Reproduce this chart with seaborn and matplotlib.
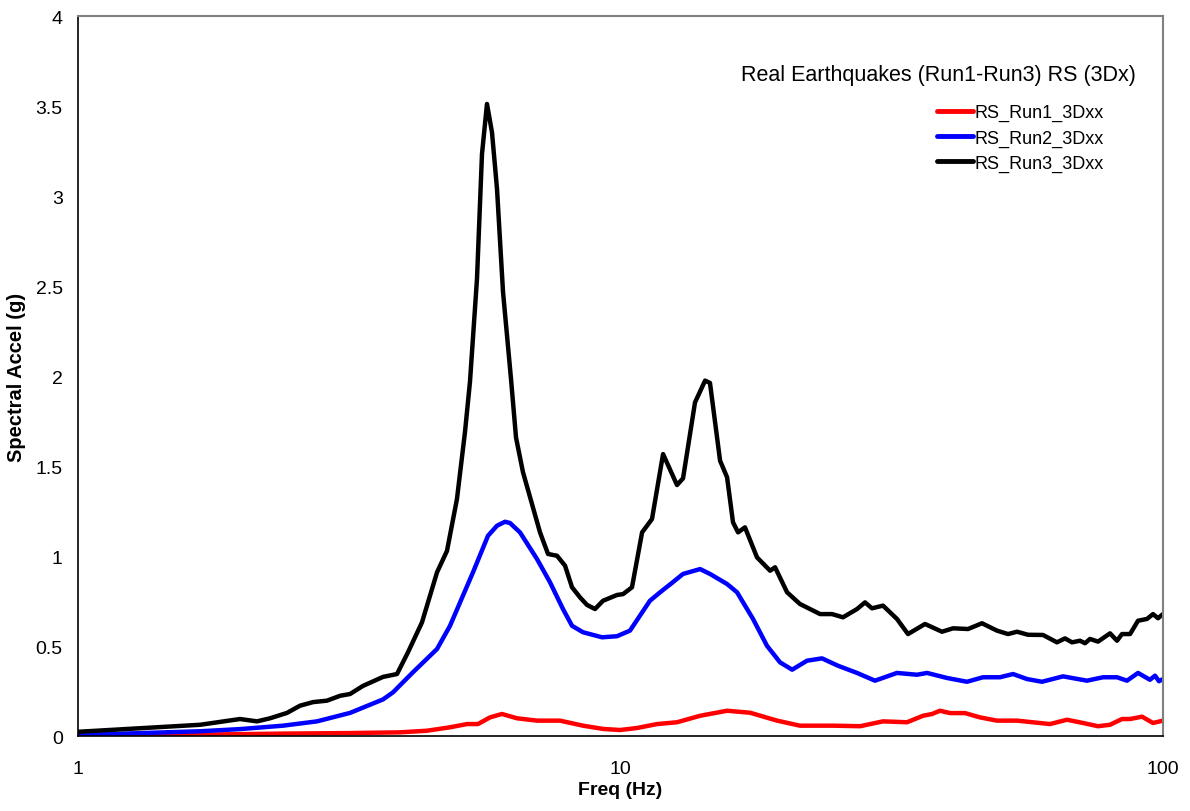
import numpy as np
import pandas as pd
import matplotlib
matplotlib.use("Agg")
import matplotlib.pyplot as plt
import seaborn as sns

# ===== data =====
freq_run1 = [1.0, 1.679, 2.387, 3.173, 3.923, 4.398, 4.850, 5.212, 5.461, 5.746,
             6.046, 6.445, 7.016, 7.737, 8.529, 9.284, 9.98, 10.72, 11.68, 12.71,
             14.02, 15.72, 17.33, 19.44, 21.42, 24.65, 27.64, 30.47, 33.74, 36.11,
             37.52, 38.81, 40.50, 43.15, 45.99, 49.43, 53.82, 61.90, 66.53, 71.20,
             75.89, 79.86, 84.03, 86.95, 91.49, 95.85, 100.0]
accel_run1 = [0.004, 0.009, 0.015, 0.018, 0.022, 0.031, 0.05, 0.068, 0.068, 0.105,
              0.124, 0.10, 0.087, 0.087, 0.059, 0.041, 0.035, 0.046, 0.068, 0.078,
              0.114, 0.142, 0.131, 0.087, 0.059, 0.059, 0.056, 0.083, 0.078, 0.114,
              0.124, 0.142, 0.129, 0.129, 0.105, 0.087, 0.087, 0.068, 0.092, 0.074,
              0.056, 0.064, 0.096, 0.096, 0.109, 0.074, 0.087]

freq_run2 = [1.0, 1.679, 1.989, 2.387, 2.758, 3.173, 3.650, 3.807, 4.145, 4.590,
             4.850, 5.347, 5.698, 5.921, 6.125, 6.256, 6.527, 7.016, 7.413, 7.834,
             8.140, 8.529, 9.246, 9.852, 10.41, 10.86, 11.33, 11.83, 12.44, 13.04,
             14.02, 14.62, 15.72, 16.40, 17.55, 18.62, 19.68, 20.72, 22.07, 23.52,
             25.17, 27.29, 29.45, 32.33, 35.20, 36.73, 39.98, 43.52, 46.58, 50.06,
             52.91, 56.15, 59.84, 65.42, 72.42, 77.52, 82.27, 85.83, 89.94, 94.62,
             96.67, 98.32, 100.0]
accel_run2 = [0.007, 0.028, 0.04, 0.059, 0.083, 0.13, 0.205, 0.244, 0.356, 0.485,
              0.614, 0.911, 1.114, 1.17, 1.192, 1.185, 1.133, 0.985, 0.856, 0.707,
              0.614, 0.578, 0.55, 0.556, 0.587, 0.67, 0.753, 0.80, 0.852, 0.902,
              0.929, 0.902, 0.846, 0.80, 0.652, 0.503, 0.411, 0.37, 0.42, 0.433,
              0.392, 0.352, 0.309, 0.352, 0.342, 0.352, 0.324, 0.303, 0.328, 0.328,
              0.346, 0.318, 0.303, 0.333, 0.309, 0.328, 0.328, 0.309, 0.352, 0.314,
              0.337, 0.306, 0.318]

freq_run3 = [1.0, 1.679, 1.989, 2.138, 2.259, 2.428, 2.566, 2.712, 2.877, 3.041,
             3.173, 3.352, 3.650, 3.873, 4.058, 4.306, 4.590, 4.788, 4.995, 5.168,
             5.279, 5.438, 5.555, 5.674, 5.796, 5.921, 6.073, 6.283, 6.418, 6.611,
             7.106, 7.352, 7.638, 7.902, 8.140, 8.420, 8.674, 8.974, 9.284, 9.852,
             10.11, 10.50, 10.96, 11.43, 11.98, 12.71, 13.04, 13.72, 14.32, 14.62,
             15.26, 15.72, 16.12, 16.47, 16.96, 17.85, 18.87, 19.27, 20.28, 21.42,
             23.33, 24.55, 25.71, 27.29, 28.23, 29.08, 30.47, 32.33, 33.88, 36.42,
             39.14, 41.02, 43.71, 46.38, 49.43, 51.80, 53.82, 56.39, 60.09, 63.76,
             65.97, 67.96, 70.31, 71.82, 73.36, 75.89, 79.86, 82.27, 84.03, 86.95,
             89.94, 93.44, 95.85, 97.91, 100.0]
accel_run3 = [0.025, 0.064, 0.096, 0.083, 0.10, 0.13, 0.17, 0.19, 0.198, 0.225,
              0.235, 0.28, 0.33, 0.346, 0.467, 0.633, 0.911, 1.03, 1.318, 1.69,
              1.97, 2.54, 3.235, 3.513, 3.355, 3.04, 2.47, 1.985, 1.66, 1.467,
              1.133, 1.013, 1.003, 0.948, 0.828, 0.772, 0.73, 0.707, 0.753, 0.785,
              0.79, 0.828, 1.133, 1.207, 1.568, 1.396, 1.433, 1.855, 1.976, 1.963,
              1.531, 1.439, 1.189, 1.133, 1.161, 0.994, 0.92, 0.939, 0.80, 0.735,
              0.679, 0.679, 0.661, 0.707, 0.744, 0.711, 0.726, 0.652, 0.568, 0.624,
              0.581, 0.60, 0.596, 0.628, 0.587, 0.568, 0.581, 0.564, 0.563, 0.522,
              0.544, 0.522, 0.531, 0.517, 0.541, 0.526, 0.572, 0.531, 0.568, 0.568,
              0.642, 0.652, 0.679, 0.656, 0.679]

series_names = ["RS_Run1_3Dxx", "RS_Run2_3Dxx", "RS_Run3_3Dxx"]
series_colors = ["#ff0000", "#0000ff", "#000000"]
title_text = "Real Earthquakes (Run1-Run3) RS (3Dx)"

# ===== long table =====
parts = []
for name, f, a in zip(series_names,
                      [freq_run1, freq_run2, freq_run3],
                      [accel_run1, accel_run2, accel_run3]):
    parts.append(pd.DataFrame({"freq": f, "accel": a, "series": name}))
df = pd.concat(parts, ignore_index=True)

sns.set_style("white")
plt.rcParams['font.family'] = ['Liberation Sans', 'DejaVu Sans']
plt.rcParams['text.color'] = 'black'
plt.rcParams['axes.labelcolor'] = 'black'

fig = plt.figure(figsize=(11.9, 8.12), dpi=100)
ax = fig.add_axes([78 / 1190, 1 - 737.3 / 812, 1085 / 1190, 720 / 812])

sns.lineplot(data=df, x="freq", y="accel", hue="series", hue_order=series_names,
             palette=series_colors, linewidth=3.2, sort=False, estimator=None,
             ax=ax)

ax.set_xscale("log")
ax.set_xlim(1, 100)
ax.set_ylim(0, 4)
ax.set_xticks([1, 10, 100])
ax.set_xticklabels(["1", "10", "100"])
ax.xaxis.set_minor_locator(matplotlib.ticker.NullLocator())
ax.set_yticks([0, 0.5, 1, 1.5, 2, 2.5, 3, 3.5, 4])
ax.set_yticklabels(["0", "0.5", "1", "1.5", "2", "2.5", "3", "3.5", "4"])
ax.tick_params(axis="both", which="major", direction="out", length=5, width=1,
               labelsize=14, color="black", labelcolor="black", pad=6)
ax.tick_params(axis="x", pad=12)

for side in ["top", "right"]:
    ax.spines[side].set_color("#808080")
    ax.spines[side].set_linewidth(1.5)
for side in ["left", "bottom"]:
    ax.spines[side].set_color("black")
    ax.spines[side].set_linewidth(1.2)

ax.set_xlabel("Freq (Hz)", fontsize=14, fontweight="bold", labelpad=3)
ax.set_ylabel("Spectral Accel (g)", fontsize=14.5, fontweight="bold", labelpad=7)

ax.text(0.793, 0.919, title_text, transform=ax.transAxes, ha="center",
        va="center", fontsize=15.5, color="black")

leg = ax.legend(loc="upper left", bbox_to_anchor=(0.7917, 0.878), frameon=False,
                fontsize=13, handlelength=2.0, handletextpad=0.1,
                borderpad=0, borderaxespad=0, labelspacing=0.45, title=None)
for line in leg.get_lines():
    line.set_linewidth(3.5)
for txt in leg.get_texts():
    txt.set_color("black")

fig.savefig("out.png", dpi=100)
